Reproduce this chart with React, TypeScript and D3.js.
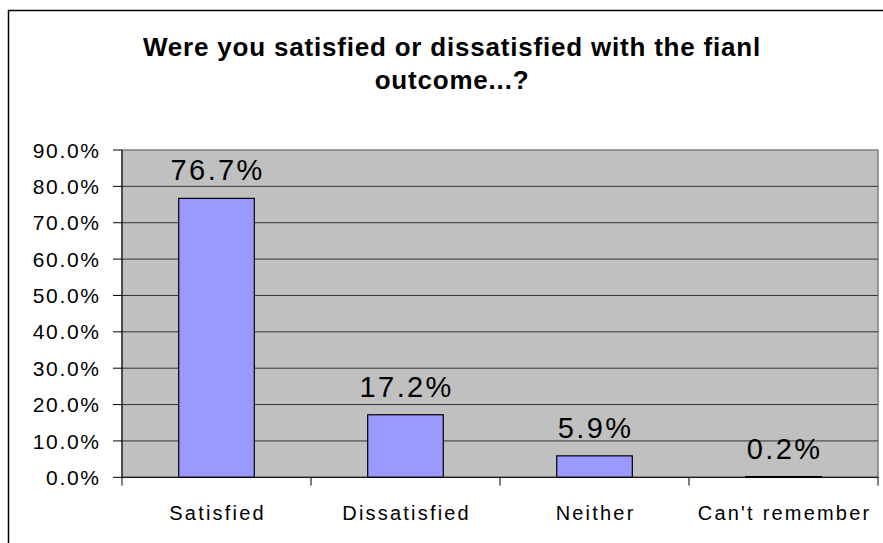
import React from "react";
import * as d3 from "d3";

const categories = ["Satisfied", "Dissatisfied", "Neither", "Can't remember"];
const values = [0.767, 0.172, 0.059, 0.002];
const yTicks = [0, 0.1, 0.2, 0.3, 0.4, 0.5, 0.6, 0.7, 0.8, 0.9];
const titleLines = ["Were you satisfied or dissatisfied with the fianl", "outcome...?"];

const W = 883;
const H = 543;
const FONT = "'Liberation Sans', Arial, Helvetica, sans-serif";

export default function App() {
  const plot = { left: 122, right: 878, top: 150, bottom: 477.3 };
  const x = d3
    .scaleBand<string>()
    .domain(categories)
    .range([plot.left, plot.right])
    .paddingInner(0.6)
    .paddingOuter(0.3);
  const y = d3.scaleLinear().domain([0, 0.9]).range([plot.bottom, plot.top]);
  const fmt = d3.format(".1%");
  const step = x.step();
  const catBounds = d3.range(categories.length + 1).map((i) => plot.left + i * step);

  return (
    <svg
      width={W}
      height={H}
      style={{ position: "absolute", left: 0, top: 0, background: "#fff" }}
      fontFamily={FONT}
    >
      <rect x={0} y={0} width={W} height={H} fill="#fff" />
      {/* outer chart frame */}
      <rect x={8.5} y={10.5} width={W + 20} height={H + 20} fill="none" stroke="#000" strokeWidth={1.5} />

      {/* title */}
      {titleLines.map((t, i) => (
        <text
          key={i}
          x={452}
          y={55.7 + i * 32.8}
          textAnchor="middle"
          fontWeight="bold"
          fontSize={26}
          letterSpacing={0.8}
          fill="#000"
        >
          {t}
        </text>
      ))}

      {/* plot area */}
      <rect
        x={plot.left}
        y={plot.top}
        width={plot.right - plot.left}
        height={plot.bottom - plot.top}
        fill="#C0C0C0"
        stroke="#808080"
        strokeWidth={1.5}
      />
      {yTicks
        .filter((t) => t > 0 && t < 0.9)
        .map((t) => (
          <line
            key={t}
            x1={plot.left}
            x2={plot.right}
            y1={y(t)}
            y2={y(t)}
            stroke="#333"
            strokeWidth={1}
          />
        ))}

      {/* bars */}
      {categories.map((c, i) => (
        <rect
          key={c}
          x={x(c)}
          y={y(values[i])}
          width={x.bandwidth()}
          height={y(0) - y(values[i])}
          fill="#9999FF"
          stroke="#000"
          strokeWidth={1.2}
        />
      ))}

      {/* axes */}
      <line x1={plot.left} x2={plot.left} y1={plot.top} y2={plot.bottom} stroke="#000" strokeWidth={1} />
      <line x1={plot.left} x2={plot.right} y1={plot.bottom} y2={plot.bottom} stroke="#000" strokeWidth={1} />
      {yTicks.map((t) => (
        <g key={t}>
          <line x1={plot.left - 9} x2={plot.left} y1={y(t)} y2={y(t)} stroke="#000" strokeWidth={1} />
          <text
            x={99 + 1.7}
            y={y(t) + 7.6}
            textAnchor="end"
            fontSize={21}
            letterSpacing={1.7}
            fill="#000"
          >
            {fmt(t)}
          </text>
        </g>
      ))}
      {catBounds.map((bx, i) => (
        <line key={i} x1={bx} x2={bx} y1={plot.bottom} y2={plot.bottom + 8.3} stroke="#000" strokeWidth={1} />
      ))}
      {categories.map((c) => (
        <text
          key={c}
          x={(x(c) as number) + x.bandwidth() / 2 + 1.1}
          y={520}
          textAnchor="middle"
          fontSize={20}
          letterSpacing={2.2}
          fill="#000"
        >
          {c}
        </text>
      ))}

      {/* value labels */}
      {categories.map((c, i) => (
        <text
          key={c}
          x={(x(c) as number) + x.bandwidth() / 2 + 1.2}
          y={y(values[i]) - 18}
          textAnchor="middle"
          fontSize={29}
          letterSpacing={2.4}
          fill="#000"
        >
          {fmt(values[i])}
        </text>
      ))}
    </svg>
  );
}
